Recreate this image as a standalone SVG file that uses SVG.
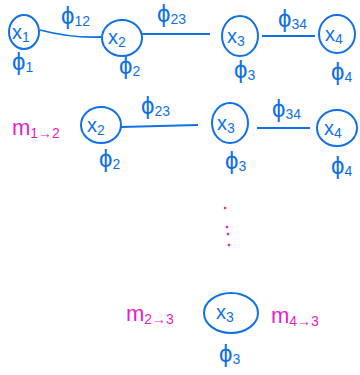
<svg xmlns="http://www.w3.org/2000/svg" width="360" height="375" viewBox="0 0 360 375">
<style>
.n{fill:none;stroke:#1070e8;stroke-width:2}
.e{fill:none;stroke:#1070e8;stroke-width:1.8}
.b{fill:#1070e8;font-family:"Liberation Sans",sans-serif;font-size:20px}
.p{font-size:24px}
.bs{font-size:14px}
.m{fill:#e81cc8;font-family:"Liberation Sans",sans-serif;font-size:22px}
.ms{font-size:14px}
.d{fill:#e81cc8}
</style>
<rect width="360" height="375" fill="#fff"/>
<g id="connectors">
<path class="e" d="M40,30 Q70,38 101,37"/>
<path class="e" d="M142,34 L210,34"/>
<path class="e" d="M262,36 L315,36"/>
<path class="e" d="M121,127 L198,125"/>
<path class="e" d="M257,128 L310,128"/>
</g>
<g id="r1x1"><ellipse class="n" cx="24" cy="32" rx="15" ry="17"/><text class="b" x="12" y="39">x<tspan class="bs" dy="3">1</tspan></text><text class="b p" x="12" y="70">ϕ<tspan class="bs" dy="2">1</tspan></text></g>
<g id="r1x2"><ellipse class="n" cx="122" cy="38" rx="20" ry="18"/><text class="b" x="108" y="44">x<tspan class="bs" dy="3">2</tspan></text><text class="b p" x="119" y="74">ϕ<tspan class="bs" dy="2">2</tspan></text></g>
<g id="r1x3"><ellipse class="n" cx="240" cy="36" rx="18" ry="20"/><text class="b" x="227" y="43">x<tspan class="bs" dy="3">3</tspan></text><text class="b p" x="234" y="78">ϕ<tspan class="bs" dy="2">3</tspan></text></g>
<g id="r1x4"><ellipse class="n" cx="337" cy="34" rx="18" ry="19"/><text class="b" x="325" y="41">x<tspan class="bs" dy="3">4</tspan></text><text class="b p" x="331" y="80">ϕ<tspan class="bs" dy="2">4</tspan></text></g>
<g id="r1l"><text class="b p" x="61" y="24">ϕ<tspan class="bs" dy="2">12</tspan></text><text class="b p" x="157" y="22">ϕ<tspan class="bs" dy="2">23</tspan></text><text class="b p" x="278" y="27">ϕ<tspan class="bs" dy="2">34</tspan></text></g>
<g id="r2m"><text class="m" x="12" y="135">m<tspan class="ms" dy="3">1→2</tspan></text></g>
<g id="r2x2"><ellipse class="n" cx="101" cy="125" rx="20" ry="18"/><text class="b" x="87" y="132">x<tspan class="bs" dy="3">2</tspan></text><text class="b p" x="99" y="167">ϕ<tspan class="bs" dy="2">2</tspan></text></g>
<g id="r2x3"><ellipse class="n" cx="230" cy="123" rx="18" ry="20"/><text class="b" x="217" y="130">x<tspan class="bs" dy="3">3</tspan></text><text class="b p" x="225" y="169">ϕ<tspan class="bs" dy="2">3</tspan></text></g>
<g id="r2x4"><ellipse class="n" cx="337" cy="128" rx="20" ry="18"/><text class="b" x="324" y="135">x<tspan class="bs" dy="3">4</tspan></text><text class="b p" x="331" y="174">ϕ<tspan class="bs" dy="2">4</tspan></text></g>
<g id="r2l"><text class="b p" x="141" y="114">ϕ<tspan class="bs" dy="2">23</tspan></text><text class="b p" x="272" y="117">ϕ<tspan class="bs" dy="2">34</tspan></text></g>
<g id="dots"><circle class="d" cx="225" cy="208" r="1.3"/><circle class="d" cx="227" cy="227" r="1.3"/><circle class="d" cx="228" cy="234" r="1.3"/><circle class="d" cx="229" cy="245" r="1.3"/></g>
<g id="bx3"><ellipse class="n" cx="231" cy="313" rx="27" ry="20"/><text class="b" x="216" y="319">x<tspan class="bs" dy="3">3</tspan></text><text class="b p" x="219" y="362">ϕ<tspan class="bs" dy="2">3</tspan></text></g>
<g id="bm"><text class="m" x="126" y="321">m<tspan class="ms" dy="3">2→3</tspan></text><text class="m" x="271" y="323">m<tspan class="ms" dy="3">4→3</tspan></text></g>
</svg>
